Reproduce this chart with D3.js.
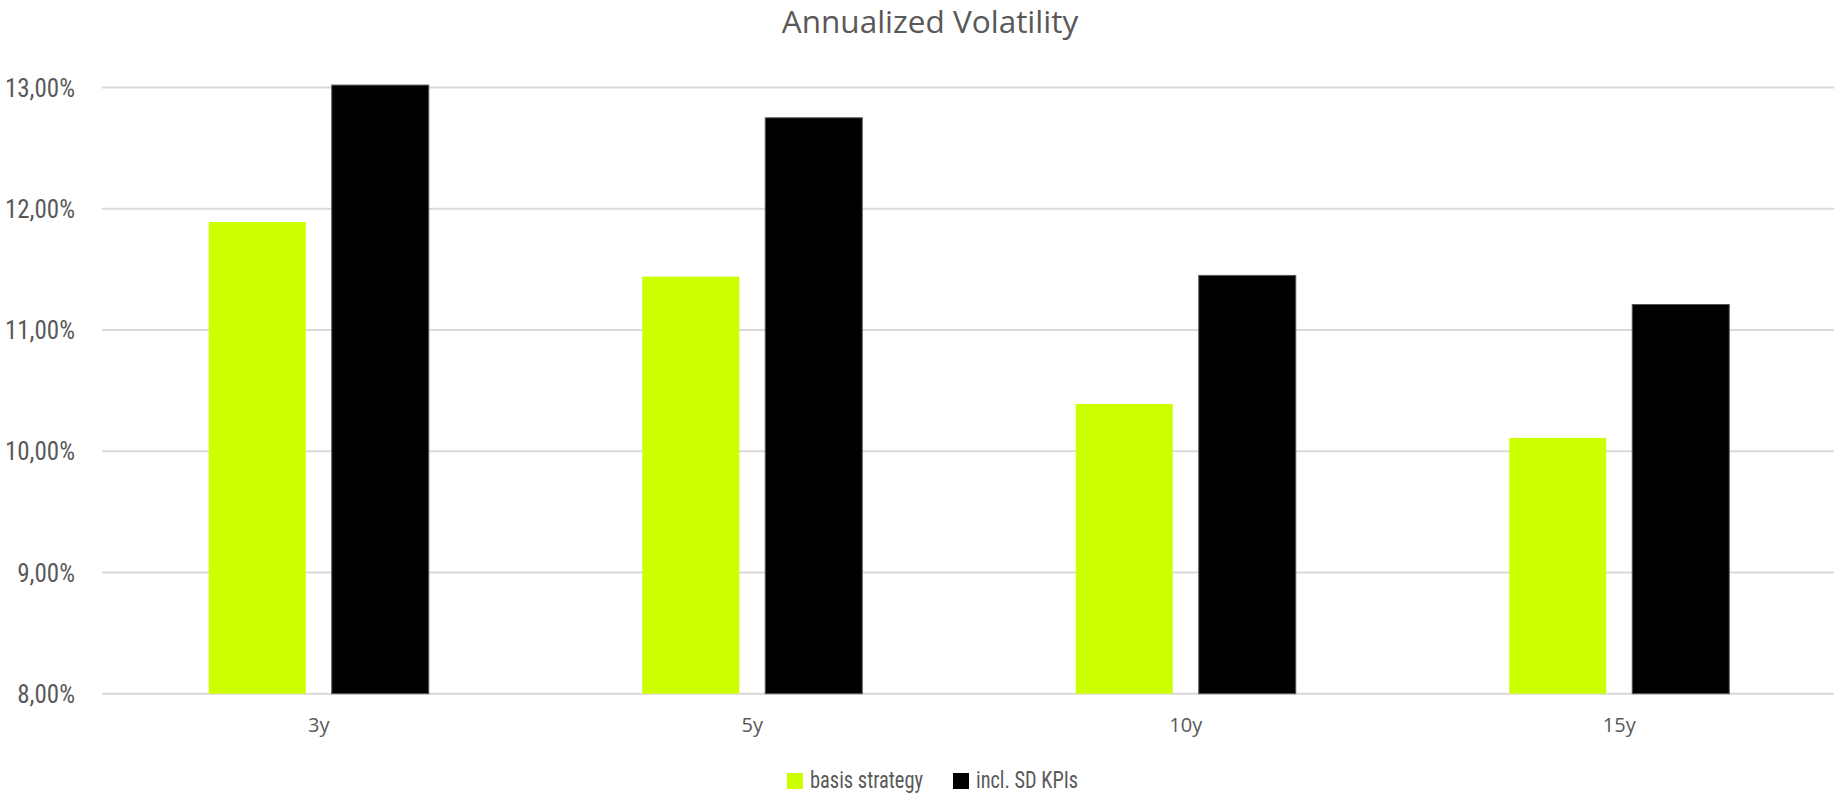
<!DOCTYPE html>
<html>
<head>
<meta charset="utf-8">
<script src="https://cdn.jsdelivr.net/npm/d3@7"></script>
<style>
  html, body { margin: 0; padding: 0; background: #fff; }
  svg { display: block; }
</style>
</head>
<body>
<svg id="chart" width="1834" height="798"></svg>
<script>
const categories = ["3y", "5y", "10y", "15y"];
const seriesNames = ["basis strategy", "incl. SD KPIs"];
const basisStrategy = [0.1189, 0.1144, 0.1039, 0.1011];
const inclSDKPIs = [0.1302, 0.1275, 0.1145, 0.1121];
const yTicks = [0.08, 0.09, 0.10, 0.11, 0.12, 0.13];
const colors = ["#CCFF00", "#000000"];
const title = "Annualized Volatility";

(function () {
const seriesValues = [basisStrategy, inclSDKPIs];
const data = categories.map((c, i) => ({ cat: c, values: seriesNames.map((s, j) => ({ s, v: seriesValues[j][i] })) }));

const svg = d3.select("#chart");
const W = 1834;
const mLeft = 102, mRight = 1836, mTop = 87.5, mBottom = 693.7;

const locale = d3.formatLocale({ decimal: ",", thousands: ".", grouping: [3], currency: ["", "€"] });
const fmt = locale.format(".2%");

const x0 = d3.scaleBand().domain(categories).range([mLeft, mRight]).paddingInner(0).paddingOuter(0);
const step = x0.step();
const groupW = 220;
const x1 = d3.scaleBand().domain(seriesNames)
  .range([(step - groupW) / 2, (step + groupW) / 2])
  .paddingInner(0.2114).paddingOuter(0);
const y = d3.scaleLinear().domain([0.08, 0.13]).range([mBottom, mTop]);

// gridlines
svg.append("g").selectAll("line").data(yTicks).join("line")
  .attr("x1", mLeft).attr("x2", W)
  .attr("y1", d => y(d)).attr("y2", d => y(d))
  .attr("stroke", "#d9d9d9").attr("stroke-width", 2);

// y axis labels
const yAxis = d3.axisLeft(y).tickValues(yTicks).tickFormat(fmt).tickSize(0).tickPadding(0);
const ga = svg.append("g").attr("transform", "translate(75,0)").call(yAxis);
ga.select(".domain").remove();
ga.selectAll("text")
  .attr("font-family", "'Liberation Sans Narrow', 'Roboto Condensed', 'DejaVu Sans Condensed', sans-serif")
  .attr("font-size", 25).attr("fill", "#595959").attr("dy", "0.35em");

// bars
const groups = svg.append("g").selectAll("g").data(data).join("g")
  .attr("transform", d => `translate(${x0(d.cat)},0)`);
groups.selectAll("rect").data(d => d.values).join("rect")
  .attr("x", d => x1(d.s))
  .attr("width", x1.bandwidth())
  .attr("y", d => y(d.v))
  .attr("height", d => y(0.08) - y(d.v))
  .attr("fill", (d, i) => colors[i])
  .attr("stroke", (d, i) => i === 1 ? "#555" : "none")
  .attr("stroke-width", 1);

// x axis labels
const xAxis = d3.axisBottom(x0).tickSize(0).tickPadding(0);
const gx = svg.append("g").attr("transform", `translate(0,${mBottom})`).call(xAxis);
gx.select(".domain").remove();
gx.selectAll("text")
  .attr("font-family", "'Open Sans', sans-serif")
  .attr("font-size", 20).attr("fill", "#595959")
  .attr("y", 0).attr("dy", 0)
  .attr("transform", "translate(0,38)");

// title
svg.append("text").attr("x", 930).attr("y", 33).attr("text-anchor", "middle")
  .attr("font-family", "'Open Sans', sans-serif").attr("font-size", 31.5).attr("fill", "#595959")
  .text(title);

// legend
const legendX = [787, 953];
const legendW = [113, 102];
const lg = svg.append("g").selectAll("g").data(seriesNames).join("g")
  .attr("transform", (d, i) => `translate(${legendX[i]},773)`);
lg.append("rect").attr("width", 16).attr("height", 16).attr("fill", (d, i) => colors[i]);
lg.append("text").attr("x", 23).attr("y", 15)
  .attr("font-family", "'Liberation Sans Narrow', 'Roboto Condensed', 'DejaVu Sans Condensed', sans-serif")
  .attr("font-size", 24).attr("fill", "#595959")
  .attr("textLength", (d, i) => legendW[i]).attr("lengthAdjust", "spacingAndGlyphs")
  .text(d => d);
})();
</script>
</body>
</html>
